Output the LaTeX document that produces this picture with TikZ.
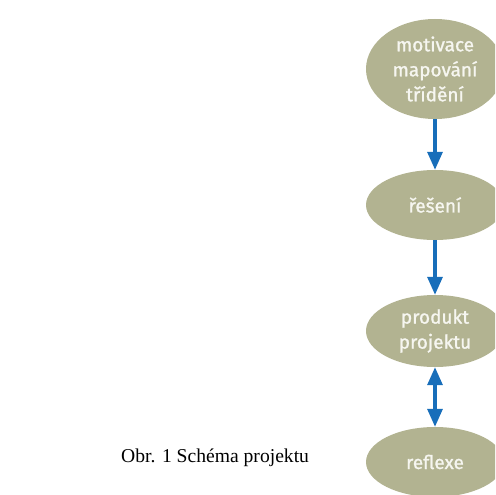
\documentclass[tikz,border=0pt]{standalone}
\usepackage{fontspec}
\setmainfont{Liberation Serif}
\newfontfamily\nodefont[FakeBold=1.2]{Fira Sans}
\usetikzlibrary{shapes.geometric,arrows.meta}
\definecolor{olive}{RGB}{178,179,145}
\definecolor{arrblue}{RGB}{24,110,186}
\definecolor{txtw}{RGB}{246,246,240}
\tikzset{
  oval/.style={ellipse, fill=olive, draw=none, inner sep=0pt, minimum width=138pt,
    align=center, text=txtw, font=\nodefont\fontsize{19pt}{25pt}\selectfont},
  arr/.style={draw=arrblue, line width=3.2pt, -{Triangle[length=18pt,width=15pt]}},
  darr/.style={draw=arrblue, line width=3.2pt, {Triangle[length=18pt,width=15pt]}-{Triangle[length=18pt,width=15pt]}}
}
\begin{document}
\begin{tikzpicture}[x=1pt,y=-1pt]
\useasboundingbox (0,0) rectangle (495,495);
\clip (0,0) rectangle (495,495);
\node[oval, minimum height=100pt] (e1) at (435,69) {motivace\\mapování\\třídění};
\node[oval, minimum height=70pt] (e2) at (435,205) {řešení};
\node[oval, minimum height=72pt] (e3) at (435,331) {produkt\\projektu};
\node[oval, minimum height=70pt] (e4) at (435,462) {reflexe};
\draw[arr] (e1) -- (e2);
\draw[arr] (e2) -- (e3);
\draw[darr] (e3) -- (e4);
\node[anchor=base west, inner sep=0pt, font=\fontsize{19.6pt}{23pt}\selectfont] (cap) at (121,462) {Obr. 1 Schéma projektu};
\end{tikzpicture}
\end{document}
